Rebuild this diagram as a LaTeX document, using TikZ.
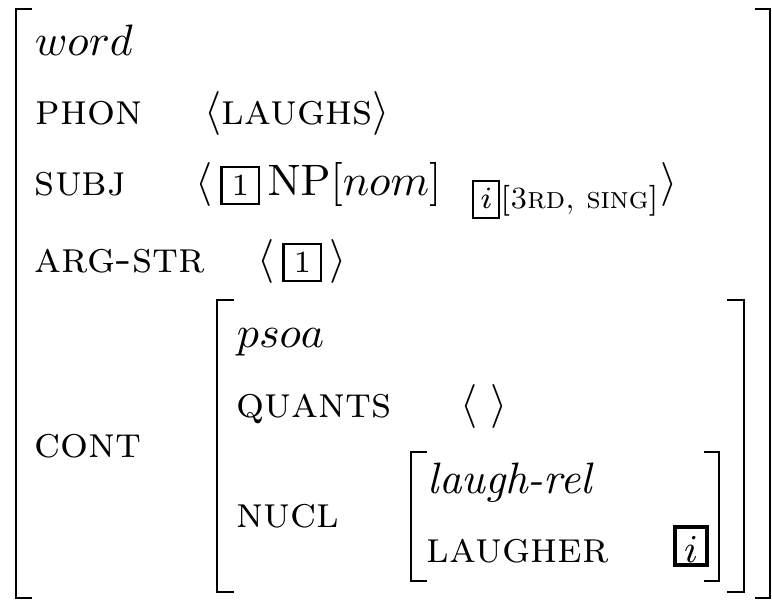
\documentclass[tikz,border=0pt]{standalone}
\usepackage{amsmath,amssymb}
\usetikzlibrary{positioning}
\newcommand{\tagbox}[2][6.1pt]{{\setlength{\fboxrule}{0.5pt}\setlength{\fboxsep}{1pt}\fbox{\rule[-0.8pt]{0pt}{5.9pt}\makebox[#1]{\scriptsize #2}}}}
\tikzset{
  feat/.style={anchor=base west, inner sep=0pt},
  brack/.style={line width=0.6pt},
  idx/.style={feat, draw, line width=0.9pt, inner xsep=0pt, inner ysep=0.7pt,
    minimum width=7.3pt, text height=7.2pt, text depth=0pt, font=\small},
}
\begin{document}
\begin{tikzpicture}[x=0.2273pt,y=-0.2273pt]
\useasboundingbox (0,0) rectangle (772,600);
% outer matrix
\draw[brack] (32,9) -| (16,598) -- (32,598);
\draw[brack] (755,9) -| (770,598) -- (755,598);
\node[feat] (word) at (34,55) {$word$};
\node[feat] (phon) at (35,124) {\textsc{phon}};
\node[feat] (phonval) at (204,124) {$\langle$\textsc{laughs}$\rangle$};
\node[feat] (subj) at (34,195) {\textsc{subj}};
\node[feat] (subjval) at (195,195) {$\langle\,\tagbox{1}\,\mathrm{NP}[nom]\hskip7pt_{\tagbox[3.4pt]{$i$}[\textsc{3rd, sing}]}\rangle$};
\node[feat] (argstr) at (34,272) {\textsc{arg-str}};
\node[feat] (argval) at (257,272) {$\langle\,\tagbox{1}\,\rangle$};
\node[feat] (cont) at (34,457) {\textsc{cont}};
% content matrix
\draw[brack] (234,300) -| (217,592) -- (234,592);
\draw[brack] (727,300) -| (744,592) -- (727,592);
\node[feat] (psoa) at (236,347) {$psoa$};
\node[feat] (quants) at (236,417) {\textsc{quants}};
\node[feat] (quantsval) at (460,417) {$\langle\;\rangle$};
\node[feat] (nucl) at (236,527) {\textsc{nucl}};
% nucleus matrix
\draw[brack] (427,452) -| (411,581) -- (427,581);
\draw[brack] (704,452) -| (719,581) -- (704,581);
\node[feat] (laughrel) at (427,493) {\textit{laugh-rel}};
\node[feat] (laugher) at (426,562) {\textsc{laugher}};
\node[idx] (laugherval) at (673,562) {$i$};
\end{tikzpicture}
\end{document}
